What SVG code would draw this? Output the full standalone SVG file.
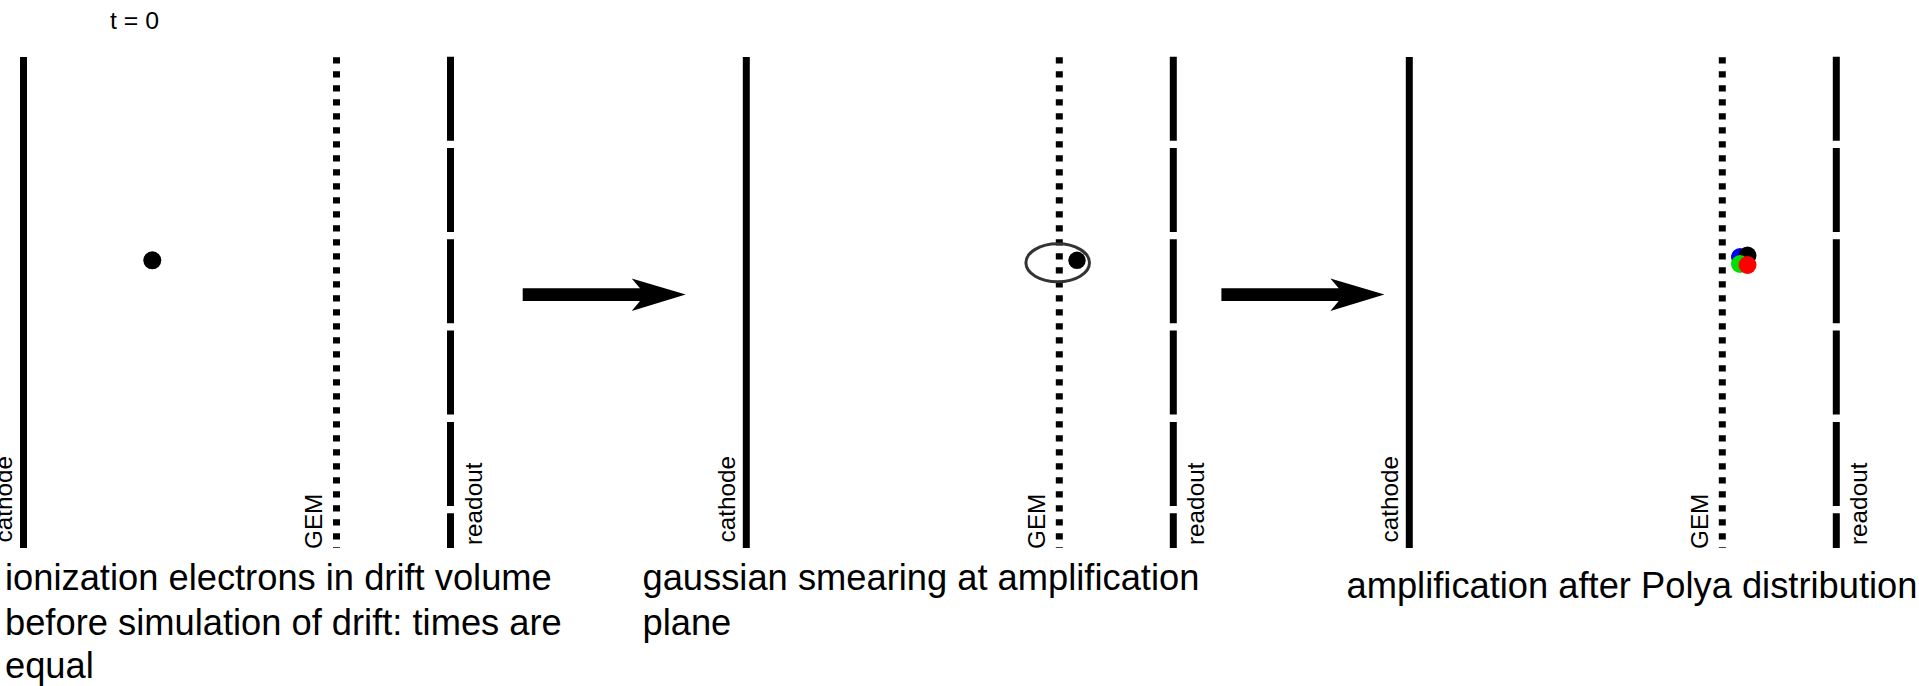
<svg xmlns="http://www.w3.org/2000/svg" width="1919" height="686" viewBox="0 0 1919 686">
  <style>
    .cathode { stroke: #000; stroke-width: 7; fill: none; }
    .gem { stroke: #000; stroke-width: 7; fill: none; stroke-dasharray: 6.3 7.7; }
    .readout { stroke: #000; stroke-width: 7; fill: none; stroke-dasharray: 84 7.3; }
    .label { font-family: "Liberation Sans", Arial, sans-serif; font-size: 24.3px; fill: #000; }
    .caption { font-family: "Liberation Sans", Arial, sans-serif; font-size: 36.3px; fill: #000; }
    .arrow { fill: #000; }
  </style>
  <defs>
    <!-- one detector: cathode plane, GEM mesh and segmented readout, with their labels -->
    <g id="detector">
      <line class="cathode" x1="0" y1="57" x2="0" y2="548"/>
      <line class="gem" x1="313" y1="57.3" x2="313" y2="548"/>
      <line class="readout" x1="427" y1="56.7" x2="427" y2="548"/>
      <text class="label" transform="translate(-11.2,542.5) rotate(-90)">cathode</text>
      <text class="label" transform="translate(298.2,549) rotate(-90)">GEM</text>
      <text class="label" transform="translate(458,545) rotate(-90)">readout</text>
    </g>
    <path id="bigArrow" d="M0,-6.3 L117.3,-6.3 L109,-16.2 L163,0 L109,16.5 L117.3,6.5 L0,6.5 Z"/>
  </defs>

  <!-- stage 1: electrons in the drift volume -->
  <g id="stage-drift">
    <text class="label" x="110" y="28.5" style="font-size:24.8px">t = 0</text>
    <use href="#detector" transform="translate(23.5,0)"/>
    <circle cx="152.3" cy="260.3" r="9" fill="#000"/>
    <text class="caption" x="5" y="590">ionization electrons in drift volume</text>
    <text class="caption" x="5" y="634.5">before simulation of drift: times are</text>
    <text class="caption" x="5" y="678">equal</text>
  </g>

  <!-- stage 2: gaussian smearing at the GEM -->
  <g id="stage-smearing">
    <use href="#detector" transform="translate(746.3,0)"/>
    <circle cx="1077" cy="260.3" r="8.7" fill="#000"/>
    <ellipse cx="1057.7" cy="262.8" rx="31.8" ry="19" fill="none" stroke="#333" stroke-width="3"/>
    <text class="caption" x="642.5" y="590">gaussian smearing at amplification</text>
    <text class="caption" x="642.5" y="634.5">plane</text>
  </g>

  <!-- stage 3: Polya amplification -->
  <g id="stage-amplification">
    <use href="#detector" transform="translate(1409.3,0)"/>
    <circle cx="1740" cy="257" r="9" fill="#0000ff"/>
    <circle cx="1747.5" cy="255.5" r="9" fill="#000"/>
    <circle cx="1740" cy="264" r="9" fill="#00e000"/>
    <circle cx="1747.5" cy="265" r="9" fill="#ff0000"/>
    <text class="caption" x="1346.5" y="598">amplification after Polya distribution</text>
  </g>

  <!-- transitions between stages -->
  <g id="connectors">
    <use href="#bigArrow" class="arrow" transform="translate(522.7,294.6)"/>
    <use href="#bigArrow" class="arrow" transform="translate(1221.4,294.6)"/>
  </g>
</svg>
